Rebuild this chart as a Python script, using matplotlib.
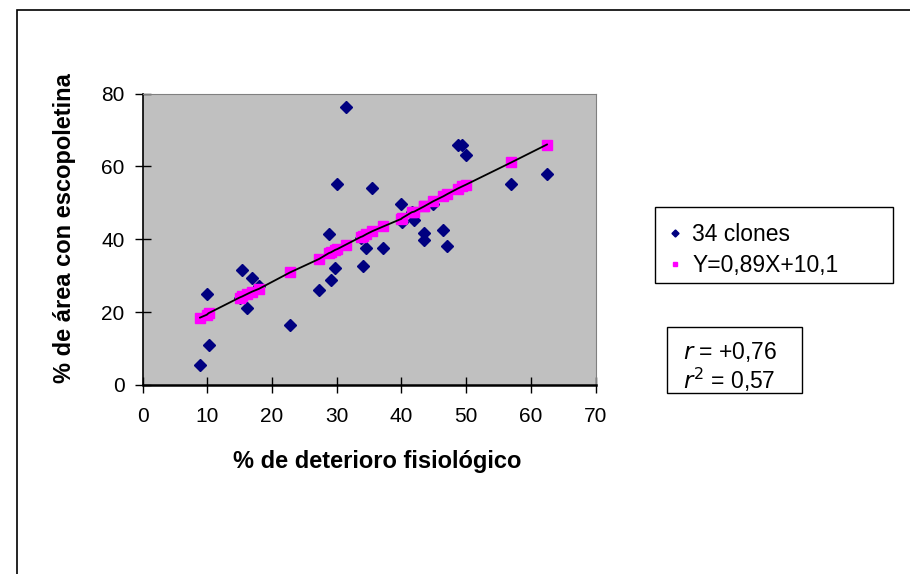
import matplotlib
matplotlib.use("Agg")
import matplotlib.pyplot as plt
from matplotlib.patches import Rectangle
import numpy as np

plt.rcParams['font.family'] = ['Liberation Sans', 'DejaVu Sans']

# 34 clones: % deterioro fisiologico vs % area con escopoletina
det = [8.9, 9.95, 10.2, 15.0, 15.4, 16.2, 16.9, 18.0, 22.8, 27.3, 28.8, 29.1,
       29.8, 30.1, 31.4, 33.7, 34.0, 34.6, 35.5, 37.2, 40.0, 40.1, 41.6, 42.0,
       43.5, 43.5, 44.9, 46.5, 47.1, 48.7, 49.4, 50.0, 57.0, 62.5]
area = [5.6, 25.0, 11.1, 23.8, 31.6, 21.1, 29.3, 27.2, 16.6, 26.1, 41.5, 28.9,
        32.1, 55.3, 76.3, 40.3, 32.7, 37.7, 54.2, 37.7, 49.8, 44.7, 47.4, 45.4,
        41.7, 39.7, 49.8, 42.6, 38.2, 65.8, 65.8, 63.0, 55.3, 58.0]
# valores estimados (Y=0,89X+10,1)
area_est = [18.5, 19.3, 19.7, 24.0, 24.3, 25.0, 25.6, 26.4, 30.9, 34.6, 36.2, 36.4,
            37.1, 37.3, 38.5, 40.6, 40.8, 41.4, 42.2, 43.5, 45.6, 45.8, 47.4, 47.6,
            49.0, 49.0, 50.4, 51.8, 52.4, 53.9, 54.5, 55.0, 61.1, 66.0]

fig = plt.figure(figsize=(9.1, 5.74), dpi=100)
fig.patches.append(Rectangle((17 / 910, -0.1), 1.1, 1.1 - 10 / 574, transform=fig.transFigure,
                             fill=False, edgecolor='black', linewidth=1.2))

ax = fig.add_axes([142.5 / 910, 1 - 385 / 574, 453 / 910, 291.5 / 574])
ax.set_facecolor('#C0C0C0')

ax.plot(det, area, 'D', color='#000080', ms=6.5, mec='#000080', label='34 clones')
ax.plot(det, area_est, 's', color='#FF00FF', ms=6.5, mec='#FF00FF', label='Y=0,89X+10,1')
ax.plot(det, area_est, '-', color='black', lw=1.3)

ax.set_xlim(0, 70)
ax.set_ylim(0, 80)
ax.set_xticks(np.arange(0, 71, 10))
ax.set_yticks(np.arange(0, 81, 20))
ax.tick_params(direction='inout', length=12, width=1, labelsize=15)
ax.tick_params(axis='x', pad=10)
ax.tick_params(axis='y', pad=7)
for s in ['top', 'right']:
    ax.spines[s].set_color('#808080')
for s in ['left', 'bottom']:
    ax.spines[s].set_color('black')
ax.spines['bottom'].set_linewidth(1.8)
ax.spines['left'].set_linewidth(1.2)

ax.set_xlabel('% de deterioro fisiológico', fontsize=17, fontweight='bold')
ax.set_ylabel('% de área con escopoletina', fontsize=17, fontweight='bold')
ax.xaxis.set_label_coords(0.517, -0.223)
ax.yaxis.set_label_coords(-0.147, 0.539)

# leyenda sin marco propio; el marco se dibuja aparte (mas ancho, como en Excel)
leg = fig.legend(loc='upper left', bbox_to_anchor=(666 / 910, 1 - 223 / 574),
                 fontsize=16.5, frameon=False, markerscale=0.55,
                 handlelength=0.8, handletextpad=0.35, borderpad=0,
                 labelspacing=0.35, borderaxespad=0)
fig.patches.append(Rectangle((655 / 910, 1 - 283 / 574), 238 / 910, 76 / 574,
                             transform=fig.transFigure, fill=False,
                             edgecolor='black', linewidth=1.0))

fig.text(683 / 910, 1 - 352 / 574, r'$r$ = +0,76', fontsize=16.5, va='center', ha='left')
fig.text(683 / 910, 1 - 380 / 574, r'$r^2$ = 0,57', fontsize=16.5, va='center', ha='left')
fig.patches.append(Rectangle((667 / 910, 1 - 393 / 574), 135 / 910, 66 / 574,
                             transform=fig.transFigure, fill=False,
                             edgecolor='black', linewidth=1.0))

fig.savefig('out.png', dpi=100)
